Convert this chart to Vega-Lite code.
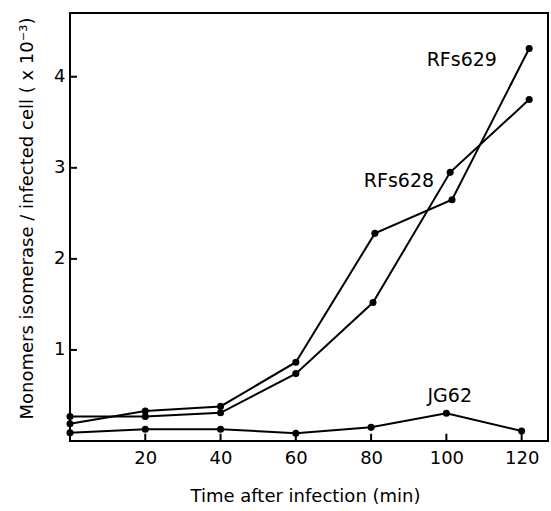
{
  "$schema": "https://vega.github.io/schema/vega-lite/v6.json",
  "width": 478,
  "height": 428,
  "autosize": {"type": "none"},
  "padding": {"left": 70, "top": 13, "right": 3, "bottom": 70},
  "background": "white",
  "config": {
    "view": {"stroke": "black", "strokeWidth": 2},
    "font": "DejaVu Sans",
    "axis": {
      "grid": false,
      "domain": false,
      "ticks": false,
      "labelColor": "black",
      "labelFontSize": 18,
      "labelFont": "DejaVu Sans",
      "titleColor": "black",
      "titleFont": "DejaVu Sans",
      "titleFontSize": 18,
      "titleFontWeight": "normal"
    }
  },
  "datasets": {
    "series": [
      {"strain": "RFs629", "time": 0, "value": 0.19},
      {"strain": "RFs629", "time": 20, "value": 0.33},
      {"strain": "RFs629", "time": 40, "value": 0.38},
      {"strain": "RFs629", "time": 60, "value": 0.865},
      {"strain": "RFs629", "time": 81, "value": 2.28},
      {"strain": "RFs629", "time": 101.5, "value": 2.65},
      {"strain": "RFs629", "time": 122, "value": 4.31},
      {"strain": "RFs628", "time": 0, "value": 0.27},
      {"strain": "RFs628", "time": 20, "value": 0.27},
      {"strain": "RFs628", "time": 40, "value": 0.31},
      {"strain": "RFs628", "time": 60, "value": 0.74},
      {"strain": "RFs628", "time": 80.5, "value": 1.52},
      {"strain": "RFs628", "time": 101, "value": 2.95},
      {"strain": "RFs628", "time": 122, "value": 3.75},
      {"strain": "JG62", "time": 0, "value": 0.09},
      {"strain": "JG62", "time": 20, "value": 0.13},
      {"strain": "JG62", "time": 40, "value": 0.13},
      {"strain": "JG62", "time": 60, "value": 0.085},
      {"strain": "JG62", "time": 80, "value": 0.15},
      {"strain": "JG62", "time": 100, "value": 0.305},
      {"strain": "JG62", "time": 120, "value": 0.11}
    ],
    "labels": [
      {"text": "RFs629", "time": 104.1, "value": 4.18},
      {"text": "RFs628", "time": 87.4, "value": 2.86},
      {"text": "JG62", "time": 100.9, "value": 0.49}
    ],
    "xticks": [{"time": 20}, {"time": 40}, {"time": 60}, {"time": 80}, {"time": 100}, {"time": 120}],
    "yticks": [{"value": 1}, {"value": 2}, {"value": 3}, {"value": 4}]
  },
  "layer": [
    {
      "data": {"name": "series"},
      "mark": {"type": "line", "color": "black", "strokeWidth": 2},
      "encoding": {
        "x": {
          "field": "time", "type": "quantitative",
          "scale": {"domain": [0, 127], "nice": false, "zero": false},
          "axis": {
            "values": [20, 40, 60, 80, 100, 120],
            "format": "d",
            "labelPadding": 8,
            "title": "Time after infection (min)",
            "titleX": 235,
            "titleY": 55,
            "titleBaseline": "middle",
            "titleAnchor": null
          }
        },
        "y": {
          "field": "value", "type": "quantitative",
          "scale": {"domain": [0, 4.7], "nice": false},
          "axis": {
            "values": [1, 2, 3, 4],
            "format": "d",
            "labelPadding": 5,
            "title": "Monomers isomerase / infected cell ( x 10⁻³)",
            "titleX": -43,
            "titleY": 205,
            "titleAngle": -90,
            "titleAlign": "center",
            "titleBaseline": "middle"
          }
        },
        "detail": {"field": "strain"}
      }
    },
    {
      "data": {"name": "xticks"},
      "mark": {"type": "rule", "color": "black", "strokeWidth": 2},
      "encoding": {
        "x": {"field": "time", "type": "quantitative"},
        "y": {"datum": 0},
        "y2": {"datum": 0.08}
      }
    },
    {
      "data": {"name": "yticks"},
      "mark": {"type": "rule", "color": "black", "strokeWidth": 2},
      "encoding": {
        "y": {"field": "value", "type": "quantitative"},
        "x": {"datum": 0},
        "x2": {"datum": 1.85}
      }
    },
    {
      "data": {"name": "series"},
      "mark": {"type": "point", "filled": true, "color": "black", "opacity": 1, "size": 50},
      "encoding": {
        "x": {"field": "time", "type": "quantitative"},
        "y": {"field": "value", "type": "quantitative"}
      }
    },
    {
      "data": {"name": "labels"},
      "mark": {"type": "text", "color": "black", "fontSize": 19, "font": "DejaVu Sans", "align": "center", "baseline": "middle"},
      "encoding": {
        "x": {"field": "time", "type": "quantitative"},
        "y": {"field": "value", "type": "quantitative"},
        "text": {"field": "text"}
      }
    }
  ]
}
